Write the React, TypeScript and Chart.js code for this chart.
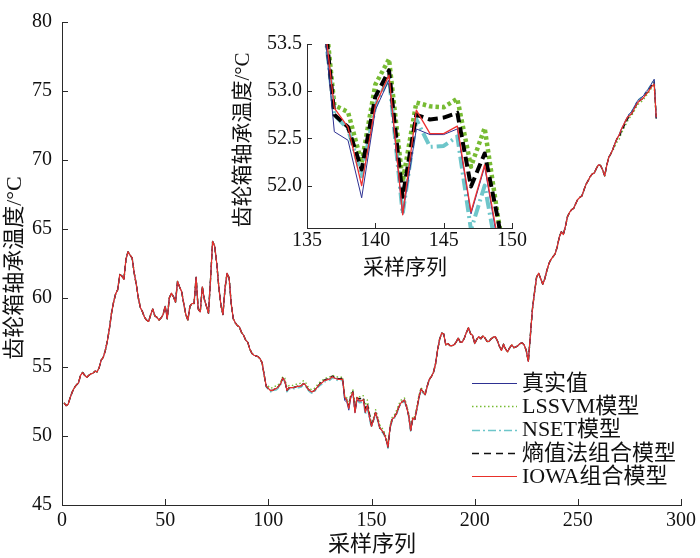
import React, { useEffect, useRef } from "react";
import { Chart, registerables } from "chart.js";

Chart.register(...registerables);

// ---------- data ----------
const xStart = 1; // first sample index

const trueVals = [
  52.4, 52.2, 52.3, 52.8, 53.2, 53.5, 53.7, 53.85, 54.4, 54.6,
  54.4, 54.25, 54.4, 54.5, 54.55, 54.7, 54.65, 54.95, 55.5, 55.7,
  56.2, 56.9, 57.8, 58.9, 59.7, 60.3, 60.6, 61.7, 61.6, 61.35,
  62.8, 63.35, 63.1, 62.9, 61.8, 61.0, 60.0, 59.3, 59.0, 58.6,
  58.4, 58.3, 58.8, 59.2, 58.7, 58.6, 58.4, 58.55, 58.8, 59.4,
  58.5, 60.0, 60.35, 60.1, 59.7, 61.2, 60.8, 60.45, 59.6, 58.8,
  58.4, 59.4, 59.6, 59.6, 61.5, 59.2, 59.0, 60.8, 59.9, 59.4,
  58.9, 61.4, 64.1, 63.75, 62.5, 60.8, 59.5, 58.8, 60.7, 61.8,
  61.45, 59.6, 58.5, 58.2, 58.0, 57.9, 57.5, 57.3, 56.95, 56.8,
  56.3, 56.0, 55.85, 55.8, 55.75, 55.6, 55.3, 54.4, 53.6, 53.45,
  53.3, 53.3, 53.4, 53.45, 53.6, 53.8, 54.2, 54.0, 53.3, 53.5,
  53.5, 53.5, 53.55, 53.6, 53.6, 53.65, 53.8, 53.7, 53.45, 53.3,
  53.2, 53.25, 53.4, 53.6, 53.75, 53.85, 54.0, 54.05, 54.1, 54.15,
  54.3, 54.2, 54.15, 54.1, 54.1, 54.1, 52.57, 52.48, 51.87, 52.8,
  53.12, 51.69, 52.6, 52.54, 52.54, 52.6, 51.7, 52.2, 51.35, 50.7,
  51.2, 51.7, 51.2, 50.6, 50.4, 50.2, 49.8, 49.2, 50.6, 51.2,
  51.35, 51.6, 52.0, 52.35, 52.5, 52.6, 52.1, 51.5, 50.4, 51.3,
  51.2, 52.0, 52.8, 53.4, 53.2, 53.0, 53.6, 54.1, 54.3, 54.6,
  55.2, 56.2, 57.0, 57.45, 57.4, 56.6, 56.7, 56.55, 56.55, 56.6,
  56.8, 57.1, 56.8, 56.8, 57.1, 57.5, 57.85, 57.4, 57.3, 56.7,
  57.0, 57.2, 57.05, 57.25, 57.1, 56.85, 56.85, 57.05, 57.15, 57.2,
  56.9, 56.5, 56.2, 56.65, 56.3, 56.1, 56.4, 56.6, 56.4, 56.45,
  56.55, 56.7, 56.75, 56.6, 56.2, 55.4, 57.3, 59.2, 60.4, 61.5,
  61.8, 61.4, 61.0, 61.4, 62.0, 62.5, 62.8, 63.0, 63.2, 63.7,
  64.4, 64.8, 64.6, 65.2, 65.9, 66.2, 66.4, 66.5, 66.85, 67.15,
  67.3, 67.4, 67.85, 68.25, 68.5, 68.8, 69.0, 69.05, 69.4, 69.65,
  69.6, 69.3, 68.85, 69.6, 70.2, 70.45, 70.8, 71.2, 71.55, 71.8,
  72.2, 72.5, 72.8, 73.1, 73.35, 73.5, 73.75, 74.05, 74.3, 74.45,
  74.55, 74.7, 74.95, 75.1, 75.35, 75.6, 75.85, 73.0,
];

const lssvmVals = [
  52.4, 52.2, 52.3, 52.8, 53.2, 53.5, 53.7, 53.85, 54.4, 54.6,
  54.4, 54.25, 54.4, 54.5, 54.55, 54.7, 54.65, 54.95, 55.5, 55.7,
  56.2, 56.9, 57.8, 58.9, 59.7, 60.3, 60.6, 61.7, 61.6, 61.35,
  62.8, 63.35, 63.1, 62.9, 61.8, 61.0, 60.0, 59.3, 59.0, 58.6,
  58.4, 58.3, 58.8, 59.2, 58.7, 58.6, 58.4, 58.55, 58.8, 59.4,
  58.5, 60.0, 60.35, 60.1, 59.7, 61.2, 60.8, 60.45, 59.6, 58.8,
  58.4, 59.4, 59.6, 59.6, 61.5, 59.2, 59.0, 60.8, 59.9, 59.4,
  58.9, 61.4, 64.1, 63.75, 62.5, 60.8, 59.5, 58.8, 60.7, 61.8,
  61.45, 59.6, 58.5, 58.2, 58.0, 57.9, 57.5, 57.3, 56.95, 56.8,
  56.3, 56.0, 55.85, 55.8, 55.75, 55.6, 55.3, 54.4, 53.6, 53.6,
  53.45, 53.5, 53.6, 53.6, 53.75, 53.95, 54.3, 54.2, 53.5, 53.65,
  53.7, 53.65, 53.7, 53.8, 53.8, 53.85, 54.0, 53.9, 53.6, 53.45,
  53.35, 53.4, 53.55, 53.75, 53.9, 54.0, 54.15, 54.2, 54.25, 54.3,
  54.4, 54.35, 54.3, 54.25, 54.25, 54.3, 52.85, 52.78, 52.24, 53.07,
  53.34, 52.04, 52.88, 52.84, 52.83, 52.92, 52.2, 52.61, 51.64, 50.85,
  51.35, 51.9, 51.4, 50.8, 50.6, 50.35, 49.95, 49.4, 50.75, 51.35,
  51.5, 51.8, 52.2, 52.55, 52.7, 52.75, 52.25, 51.65, 50.6, 51.45,
  51.35, 52.15, 52.95, 53.5, 53.3, 53.0, 53.6, 54.1, 54.3, 54.6,
  55.2, 56.2, 57.0, 57.45, 57.4, 56.6, 56.7, 56.55, 56.55, 56.6,
  56.8, 57.1, 56.8, 56.8, 57.1, 57.5, 57.85, 57.4, 57.3, 56.7,
  57.0, 57.2, 57.05, 57.25, 57.1, 56.85, 56.85, 57.05, 57.15, 57.2,
  56.9, 56.5, 56.2, 56.65, 56.3, 56.1, 56.4, 56.6, 56.4, 56.45,
  56.55, 56.7, 56.75, 56.6, 56.2, 55.4, 57.3, 59.2, 60.4, 61.5,
  61.8, 61.4, 61.0, 61.4, 62.0, 62.5, 62.8, 63.0, 63.2, 63.7,
  64.4, 64.8, 64.6, 65.2, 65.9, 66.2, 66.4, 66.5, 66.85, 67.15,
  67.3, 67.4, 67.85, 68.25, 68.5, 68.8, 69.0, 69.05, 69.4, 69.65,
  69.6, 69.3, 68.85, 69.6, 70.2, 70.45, 70.7, 71.0, 71.3, 71.5,
  71.9, 72.2, 72.5, 72.8, 73.05, 73.2, 73.45, 73.75, 74.0, 74.15,
  74.25, 74.4, 74.65, 74.8, 75.05, 75.3, 75.5, 73.0,
];

const nsetVals = [
  52.4, 52.2, 52.3, 52.8, 53.2, 53.5, 53.7, 53.85, 54.4, 54.6,
  54.4, 54.25, 54.4, 54.5, 54.55, 54.7, 54.65, 54.95, 55.5, 55.7,
  56.2, 56.9, 57.8, 58.9, 59.7, 60.3, 60.6, 61.7, 61.6, 61.35,
  62.8, 63.35, 63.1, 62.9, 61.8, 61.0, 60.0, 59.3, 59.0, 58.6,
  58.4, 58.3, 58.8, 59.2, 58.7, 58.6, 58.4, 58.55, 58.8, 59.4,
  58.5, 60.0, 60.35, 60.1, 59.7, 61.2, 60.8, 60.45, 59.6, 58.8,
  58.4, 59.4, 59.6, 59.6, 61.5, 59.2, 59.0, 60.8, 59.9, 59.4,
  58.9, 61.4, 64.1, 63.75, 62.5, 60.8, 59.5, 58.8, 60.7, 61.8,
  61.45, 59.6, 58.5, 58.2, 58.0, 57.9, 57.5, 57.3, 56.95, 56.8,
  56.3, 56.0, 55.85, 55.8, 55.75, 55.6, 55.3, 54.4, 53.55, 53.35,
  53.2, 53.2, 53.3, 53.35, 53.5, 53.7, 54.1, 53.9, 53.2, 53.4,
  53.4, 53.4, 53.45, 53.5, 53.5, 53.55, 53.7, 53.6, 53.35, 53.2,
  53.1, 53.15, 53.3, 53.5, 53.65, 53.75, 53.9, 53.95, 54.0, 54.05,
  54.2, 54.1, 54.05, 54.0, 54.0, 54.05, 52.75, 52.6, 52.1, 52.85,
  53.15, 51.7, 52.7, 52.41, 52.42, 52.52, 51.53, 52.0, 51.2, 50.6,
  51.1, 51.6, 51.1, 50.5, 50.3, 50.1, 49.7, 49.1, 50.5, 51.1,
  51.25, 51.5, 51.9, 52.25, 52.4, 52.5, 52.0, 51.4, 50.3, 51.2,
  51.1, 51.9, 52.7, 53.3, 53.1, 53.0, 53.6, 54.1, 54.3, 54.6,
  55.2, 56.2, 57.0, 57.45, 57.4, 56.6, 56.7, 56.55, 56.55, 56.6,
  56.8, 57.1, 56.8, 56.8, 57.1, 57.5, 57.85, 57.4, 57.3, 56.7,
  57.0, 57.2, 57.05, 57.25, 57.1, 56.85, 56.85, 57.05, 57.15, 57.2,
  56.9, 56.5, 56.2, 56.65, 56.3, 56.1, 56.4, 56.6, 56.4, 56.45,
  56.55, 56.7, 56.75, 56.6, 56.2, 55.4, 57.3, 59.2, 60.4, 61.5,
  61.8, 61.4, 61.0, 61.4, 62.0, 62.5, 62.8, 63.0, 63.2, 63.7,
  64.4, 64.8, 64.6, 65.2, 65.9, 66.2, 66.4, 66.5, 66.85, 67.15,
  67.3, 67.4, 67.85, 68.25, 68.5, 68.8, 69.0, 69.05, 69.4, 69.65,
  69.6, 69.3, 68.85, 69.6, 70.2, 70.45, 70.8, 71.2, 71.55, 71.8,
  72.2, 72.5, 72.8, 73.1, 73.35, 73.5, 73.75, 74.05, 74.3, 74.45,
  74.55, 74.7, 74.95, 75.1, 75.35, 75.6, 75.85, 73.0,
];

const entropyVals = [
  52.4, 52.2, 52.3, 52.8, 53.2, 53.5, 53.7, 53.85, 54.4, 54.6,
  54.4, 54.25, 54.4, 54.5, 54.55, 54.7, 54.65, 54.95, 55.5, 55.7,
  56.2, 56.9, 57.8, 58.9, 59.7, 60.3, 60.6, 61.7, 61.6, 61.35,
  62.8, 63.35, 63.1, 62.9, 61.8, 61.0, 60.0, 59.3, 59.0, 58.6,
  58.4, 58.3, 58.8, 59.2, 58.7, 58.6, 58.4, 58.55, 58.8, 59.4,
  58.5, 60.0, 60.35, 60.1, 59.7, 61.2, 60.8, 60.45, 59.6, 58.8,
  58.4, 59.4, 59.6, 59.6, 61.5, 59.2, 59.0, 60.8, 59.9, 59.4,
  58.9, 61.4, 64.1, 63.75, 62.5, 60.8, 59.5, 58.8, 60.7, 61.8,
  61.45, 59.6, 58.5, 58.2, 58.0, 57.9, 57.5, 57.3, 56.95, 56.8,
  56.3, 56.0, 55.85, 55.8, 55.75, 55.6, 55.3, 54.4, 53.6, 53.45,
  53.3, 53.3, 53.4, 53.45, 53.6, 53.8, 54.2, 54.0, 53.3, 53.5,
  53.5, 53.5, 53.55, 53.6, 53.6, 53.65, 53.8, 53.7, 53.45, 53.3,
  53.2, 53.25, 53.4, 53.6, 53.8, 53.9, 54.05, 54.1, 54.15, 54.2,
  54.35, 54.25, 54.2, 54.15, 54.15, 54.2, 52.75, 52.62, 52.17, 52.94,
  53.22, 51.88, 52.75, 52.7, 52.72, 52.77, 51.99, 52.34, 51.62, 50.75,
  51.2, 51.7, 51.2, 50.6, 50.4, 50.2, 49.8, 49.2, 50.6, 51.2,
  51.35, 51.6, 52.0, 52.35, 52.5, 52.6, 52.1, 51.5, 50.4, 51.3,
  51.2, 52.0, 52.8, 53.4, 53.2, 53.0, 53.6, 54.1, 54.3, 54.6,
  55.2, 56.2, 57.0, 57.45, 57.4, 56.6, 56.7, 56.55, 56.55, 56.6,
  56.8, 57.1, 56.8, 56.8, 57.1, 57.5, 57.85, 57.4, 57.3, 56.7,
  57.0, 57.2, 57.05, 57.25, 57.1, 56.85, 56.85, 57.05, 57.15, 57.2,
  56.9, 56.5, 56.2, 56.65, 56.3, 56.1, 56.4, 56.6, 56.4, 56.45,
  56.55, 56.7, 56.75, 56.6, 56.2, 55.4, 57.3, 59.2, 60.4, 61.5,
  61.8, 61.4, 61.0, 61.4, 62.0, 62.5, 62.8, 63.0, 63.2, 63.7,
  64.4, 64.8, 64.6, 65.2, 65.9, 66.2, 66.4, 66.5, 66.85, 67.15,
  67.3, 67.4, 67.85, 68.25, 68.5, 68.8, 69.0, 69.05, 69.4, 69.65,
  69.6, 69.3, 68.85, 69.6, 70.2, 70.45, 70.8, 71.2, 71.55, 71.65,
  72.05, 72.35, 72.65, 72.95, 73.2, 73.35, 73.6, 73.9, 74.15, 74.3,
  74.4, 74.55, 74.8, 74.95, 75.2, 75.45, 75.65, 73.0,
];

const iowaVals = [
  52.4, 52.2, 52.3, 52.8, 53.2, 53.5, 53.7, 53.85, 54.4, 54.6,
  54.4, 54.25, 54.4, 54.5, 54.55, 54.7, 54.65, 54.95, 55.5, 55.7,
  56.2, 56.9, 57.8, 58.9, 59.7, 60.3, 60.6, 61.7, 61.6, 61.35,
  62.8, 63.35, 63.1, 62.9, 61.8, 61.0, 60.0, 59.3, 59.0, 58.6,
  58.4, 58.3, 58.8, 59.2, 58.7, 58.6, 58.4, 58.55, 58.8, 59.4,
  58.5, 60.0, 60.35, 60.1, 59.7, 61.2, 60.8, 60.45, 59.6, 58.8,
  58.4, 59.4, 59.6, 59.6, 61.5, 59.2, 59.0, 60.8, 59.9, 59.4,
  58.9, 61.4, 64.1, 63.75, 62.5, 60.8, 59.5, 58.8, 60.7, 61.8,
  61.45, 59.6, 58.5, 58.2, 58.0, 57.9, 57.5, 57.3, 56.95, 56.8,
  56.3, 56.0, 55.85, 55.8, 55.75, 55.6, 55.3, 54.4, 53.6, 53.45,
  53.3, 53.3, 53.4, 53.45, 53.6, 53.8, 54.2, 54.0, 53.3, 53.5,
  53.5, 53.5, 53.55, 53.6, 53.6, 53.65, 53.8, 53.7, 53.45, 53.3,
  53.2, 53.25, 53.4, 53.6, 53.75, 53.85, 54.0, 54.05, 54.1, 54.15,
  54.3, 54.2, 54.15, 54.1, 54.1, 54.1, 52.82, 52.62, 52.0, 52.85,
  53.17, 51.69, 52.8, 52.55, 52.55, 52.63, 51.72, 52.22, 51.4, 50.7,
  51.2, 51.7, 51.2, 50.6, 50.4, 50.2, 49.8, 49.2, 50.6, 51.2,
  51.35, 51.6, 52.0, 52.35, 52.5, 52.6, 52.1, 51.5, 50.4, 51.3,
  51.2, 52.0, 52.8, 53.4, 53.2, 53.0, 53.6, 54.1, 54.3, 54.6,
  55.2, 56.2, 57.0, 57.45, 57.4, 56.6, 56.7, 56.55, 56.55, 56.6,
  56.8, 57.1, 56.8, 56.8, 57.1, 57.5, 57.85, 57.4, 57.3, 56.7,
  57.0, 57.2, 57.05, 57.25, 57.1, 56.85, 56.85, 57.05, 57.15, 57.2,
  56.9, 56.5, 56.2, 56.65, 56.3, 56.1, 56.4, 56.6, 56.4, 56.45,
  56.55, 56.7, 56.75, 56.6, 56.2, 55.4, 57.3, 59.2, 60.4, 61.5,
  61.8, 61.4, 61.0, 61.4, 62.0, 62.5, 62.8, 63.0, 63.2, 63.7,
  64.4, 64.8, 64.6, 65.2, 65.9, 66.2, 66.4, 66.5, 66.85, 67.15,
  67.3, 67.4, 67.85, 68.25, 68.5, 68.8, 69.0, 69.05, 69.4, 69.65,
  69.6, 69.3, 68.85, 69.6, 70.2, 70.45, 70.8, 71.2, 71.55, 71.8,
  72.2, 72.5, 72.8, 73.1, 73.2, 73.35, 73.6, 73.9, 74.15, 74.3,
  74.4, 74.55, 74.75, 74.9, 75.15, 75.35, 75.5, 73.1,
];

const seriesNames = ["真实值", "LSSVM模型", "NSET模型", "熵值法组合模型", "IOWA组合模型"];
const mainXTicks = [0, 50, 100, 150, 200, 250, 300];
const mainYTicks = [45, 50, 55, 60, 65, 70, 75, 80];
const insetXTicks = [135, 140, 145, 150];
const insetYTicks = [52.0, 52.5, 53.0, 53.5];
const xTitle = "采样序列";
const yTitle = "齿轮箱轴承温度/°C";

// ---------- styles ----------
const FAM = '"Liberation Serif", "Noto Sans CJK SC", serif';
const AXIS = "#2a2a2a";
const INK = "#111111";

type Style = { color: string; width: number; dash: number[]; order: number };

const mainStyles: Style[] = [
  { color: "#2e3192", width: 1, dash: [], order: 2 },
  { color: "#77bb33", width: 1.4, dash: [1.5, 2.5], order: 5 },
  { color: "#6ec6ca", width: 1.4, dash: [6, 3, 1.5, 3], order: 4 },
  { color: "#111111", width: 1.4, dash: [5, 3], order: 3 },
  { color: "#e8302a", width: 1.2, dash: [], order: 1 },
];
const insetStyles: Style[] = [
  { color: "#2e3192", width: 1, dash: [], order: 2 },
  { color: "#77bb33", width: 4.5, dash: [3.5, 3], order: 5 },
  { color: "#6ec6ca", width: 4, dash: [12, 4, 2, 4], order: 4 },
  { color: "#000000", width: 4, dash: [10, 5], order: 3 },
  { color: "#ee3030", width: 1.3, dash: [], order: 1 },
];
const legendStyles = [
  { color: "#2e3192", width: 1, dash: [] as number[] },
  { color: "#77bb33", width: 1.3, dash: [1.5, 2.5] },
  { color: "#6ec6ca", width: 1.3, dash: [8, 3, 2, 3] },
  { color: "#111111", width: 1.3, dash: [7, 5] },
  { color: "#e8302a", width: 1.2, dash: [] as number[] },
];

const allSeries = [trueVals, lssvmVals, nsetVals, entropyVals, iowaVals];

function buildDatasets(styles: Style[]) {
  return allSeries.map((arr, k) => ({
    label: seriesNames[k],
    data: arr.map((v, i) => ({ x: xStart + i, y: v })),
    borderColor: styles[k].color,
    backgroundColor: styles[k].color,
    borderWidth: styles[k].width,
    borderDash: styles[k].dash,
    borderCapStyle: "butt" as const,
    borderJoinStyle: "round" as const,
    pointRadius: 0,
    pointHoverRadius: 0,
    fill: false,
    tension: 0,
    order: styles[k].order,
    clip: 0,
  }));
}

function inwardTicks(len: number) {
  return {
    id: "inwardTicks",
    afterDraw(chart: any) {
      const { ctx, chartArea: a, scales } = chart;
      ctx.save();
      ctx.strokeStyle = AXIS;
      ctx.lineWidth = 1;
      ctx.setLineDash([]);
      for (const t of scales.x.ticks) {
        const px = Math.round(scales.x.getPixelForValue(t.value)) + 0.5;
        ctx.beginPath();
        ctx.moveTo(px, a.bottom);
        ctx.lineTo(px, a.bottom - len);
        ctx.stroke();
      }
      for (const t of scales.y.ticks) {
        const py = Math.round(scales.y.getPixelForValue(t.value)) + 0.5;
        ctx.beginPath();
        ctx.moveTo(a.left, py);
        ctx.lineTo(a.left + len, py);
        ctx.stroke();
      }
      ctx.restore();
    },
  };
}

function titles(xPos: [number, number], yPos: [number, number], size: number) {
  return {
    id: "axisTitles",
    afterDraw(chart: any) {
      const { ctx } = chart;
      ctx.save();
      ctx.fillStyle = INK;
      ctx.font = `${size}px ${FAM}`;
      ctx.textAlign = "center";
      ctx.textBaseline = "middle";
      ctx.fillText(xTitle, xPos[0], xPos[1]);
      ctx.translate(yPos[0], yPos[1]);
      ctx.rotate(-Math.PI / 2);
      ctx.fillText(yTitle, 0, 0);
      ctx.restore();
    },
  };
}

const legendPlugin = {
  id: "customLegend",
  afterDraw(chart: any) {
    const { ctx } = chart;
    ctx.save();
    ctx.font = `22px ${FAM}`;
    ctx.textAlign = "left";
    ctx.textBaseline = "middle";
    seriesNames.forEach((name, k) => {
      const y = 383 + k * 23.3;
      const st = legendStyles[k];
      ctx.strokeStyle = st.color;
      ctx.lineWidth = st.width;
      ctx.setLineDash(st.dash);
      ctx.beginPath();
      ctx.moveTo(472, Math.round(y) + 0.5);
      ctx.lineTo(517, Math.round(y) + 0.5);
      ctx.stroke();
      ctx.setLineDash([]);
      ctx.fillStyle = INK;
      ctx.fillText(name, 522, y + 1);
    });
    ctx.restore();
  },
};

function scaleCfg(
  min: number,
  max: number,
  tickVals: number[],
  fmt: (v: number) => string,
  fit: (s: any) => void,
  pad: number
) {
  return {
    type: "linear" as const,
    min,
    max,
    afterBuildTicks: (s: any) => {
      s.ticks = tickVals.map((v) => ({ value: v }));
    },
    afterFit: fit,
    grid: { display: false, drawTicks: false },
    border: { display: true, color: AXIS, width: 1 },
    ticks: {
      autoSkip: false,
      maxRotation: 0,
      padding: pad,
      color: INK,
      font: { family: FAM, size: 20 },
      callback: (v: any) => fmt(Number(v)),
    },
  };
}

function mainConfig(): any {
  return {
    type: "line",
    data: { datasets: buildDatasets(mainStyles) },
    options: {
      animation: false,
      responsive: false,
      maintainAspectRatio: false,
      devicePixelRatio: 1,
      events: [],
      layout: { padding: { left: 0, right: 17, top: 16, bottom: 0 } },
      plugins: { legend: { display: false }, tooltip: { enabled: false } },
      scales: {
        x: scaleCfg(0, 300, mainXTicks, (v) => String(v), (s) => { s.height = 53; }, 4),
        y: scaleCfg(45, 80, mainYTicks, (v) => String(v), (s) => { s.width = 62; }, 10),
      },
    },
    plugins: [inwardTicks(6), titles([372, 545], [15, 268], 22), legendPlugin],
  };
}

function insetConfig(): any {
  return {
    type: "line",
    data: { datasets: buildDatasets(insetStyles) },
    options: {
      animation: false,
      responsive: false,
      maintainAspectRatio: false,
      devicePixelRatio: 1,
      events: [],
      layout: { padding: { left: 0, right: 18, top: 24, bottom: 0 } },
      plugins: { legend: { display: false }, tooltip: { enabled: false } },
      scales: {
        x: scaleCfg(135, 150, insetXTicks, (v) => String(v), (s) => { s.height = 62; }, 1),
        y: scaleCfg(51.55, 53.5, insetYTicks, (v) => v.toFixed(1), (s) => { s.width = 107; }, 5),
      },
    },
    plugins: [inwardTicks(5), titles([205, 248], [43, 120], 21)],
  };
}

export default function App() {
  const mainRef = useRef<HTMLCanvasElement>(null);
  const insetRef = useRef<HTMLCanvasElement>(null);

  useEffect(() => {
    const main = new Chart(mainRef.current as HTMLCanvasElement, mainConfig());
    const inset = new Chart(insetRef.current as HTMLCanvasElement, insetConfig());
    return () => {
      main.destroy();
      inset.destroy();
    };
  }, []);

  return (
    <div style={{ position: "absolute", left: 0, top: 0, width: 700, height: 558, background: "#ffffff" }}>
      <canvas
        ref={mainRef}
        width={700}
        height={558}
        style={{ position: "absolute", left: 0, top: 0, width: 700, height: 558, display: "block" }}
      />
      <canvas
        ref={insetRef}
        width={330}
        height={270}
        style={{ position: "absolute", left: 200, top: 20, width: 330, height: 270, display: "block" }}
      />
    </div>
  );
}
